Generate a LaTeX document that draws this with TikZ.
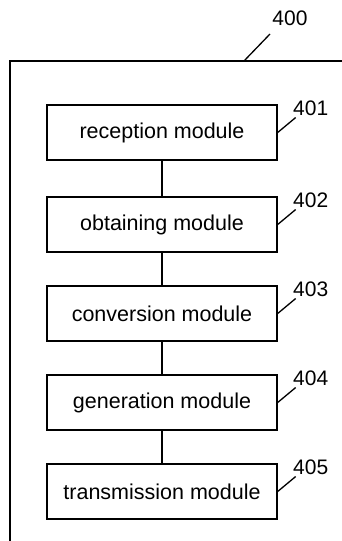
\documentclass[tikz,border=0pt]{standalone}
\usepackage{fontspec}
\setmainfont{Liberation Sans}
\begin{document}
\begin{tikzpicture}[x=1pt,y=-1pt,
  line width=1.4pt,
  modbox/.style={draw, rectangle, minimum width=230pt, minimum height=55pt,
    inner sep=0pt, font=\fontsize{21.5}{24}\selectfont},
  reflabel/.style={font=\fontsize{21}{24}\selectfont, inner sep=0pt},
  leader/.style={line width=1.3pt}]
  \useasboundingbox (0,0) rectangle (341,541);
  % outer unit frame, running past the page edges
  \coordinate (frameBL) at (10,560);
  \coordinate (frameTL) at (10,61);
  \coordinate (frameTR) at (360,61);
  \draw (frameBL) -- (frameTL) -- (frameTR);
  \node[reflabel] (l400) at (290,18) {400};
  \coordinate (p400) at (244,61);
  \coordinate (q400) at (270,34);
  \draw[leader] (p400) -- (q400);
  % modules
  \node[modbox] (m1) at (162,132.5) {reception module};
  \node[modbox] (m2) at (162,224.5) {obtaining module};
  \node[modbox] (m3) at (162,313.5) {conversion module};
  \node[modbox] (m4) at (162,402.5) {generation module};
  \node[modbox] (m5) at (162,491.5) {transmission module};
  \draw (m1) -- (m2);
  \draw (m2) -- (m3);
  \draw (m3) -- (m4);
  \draw (m4) -- (m5);
  % reference numerals
  \foreach \i/\n in {1/401,2/402,3/403,4/404,5/405}{
    \node[reflabel] (l\n) at ([shift={(33,-24)}]m\i.east) {\n};
    \draw[leader] (m\i.east) -- ++(18,-15);
  }
\end{tikzpicture}
\end{document}
